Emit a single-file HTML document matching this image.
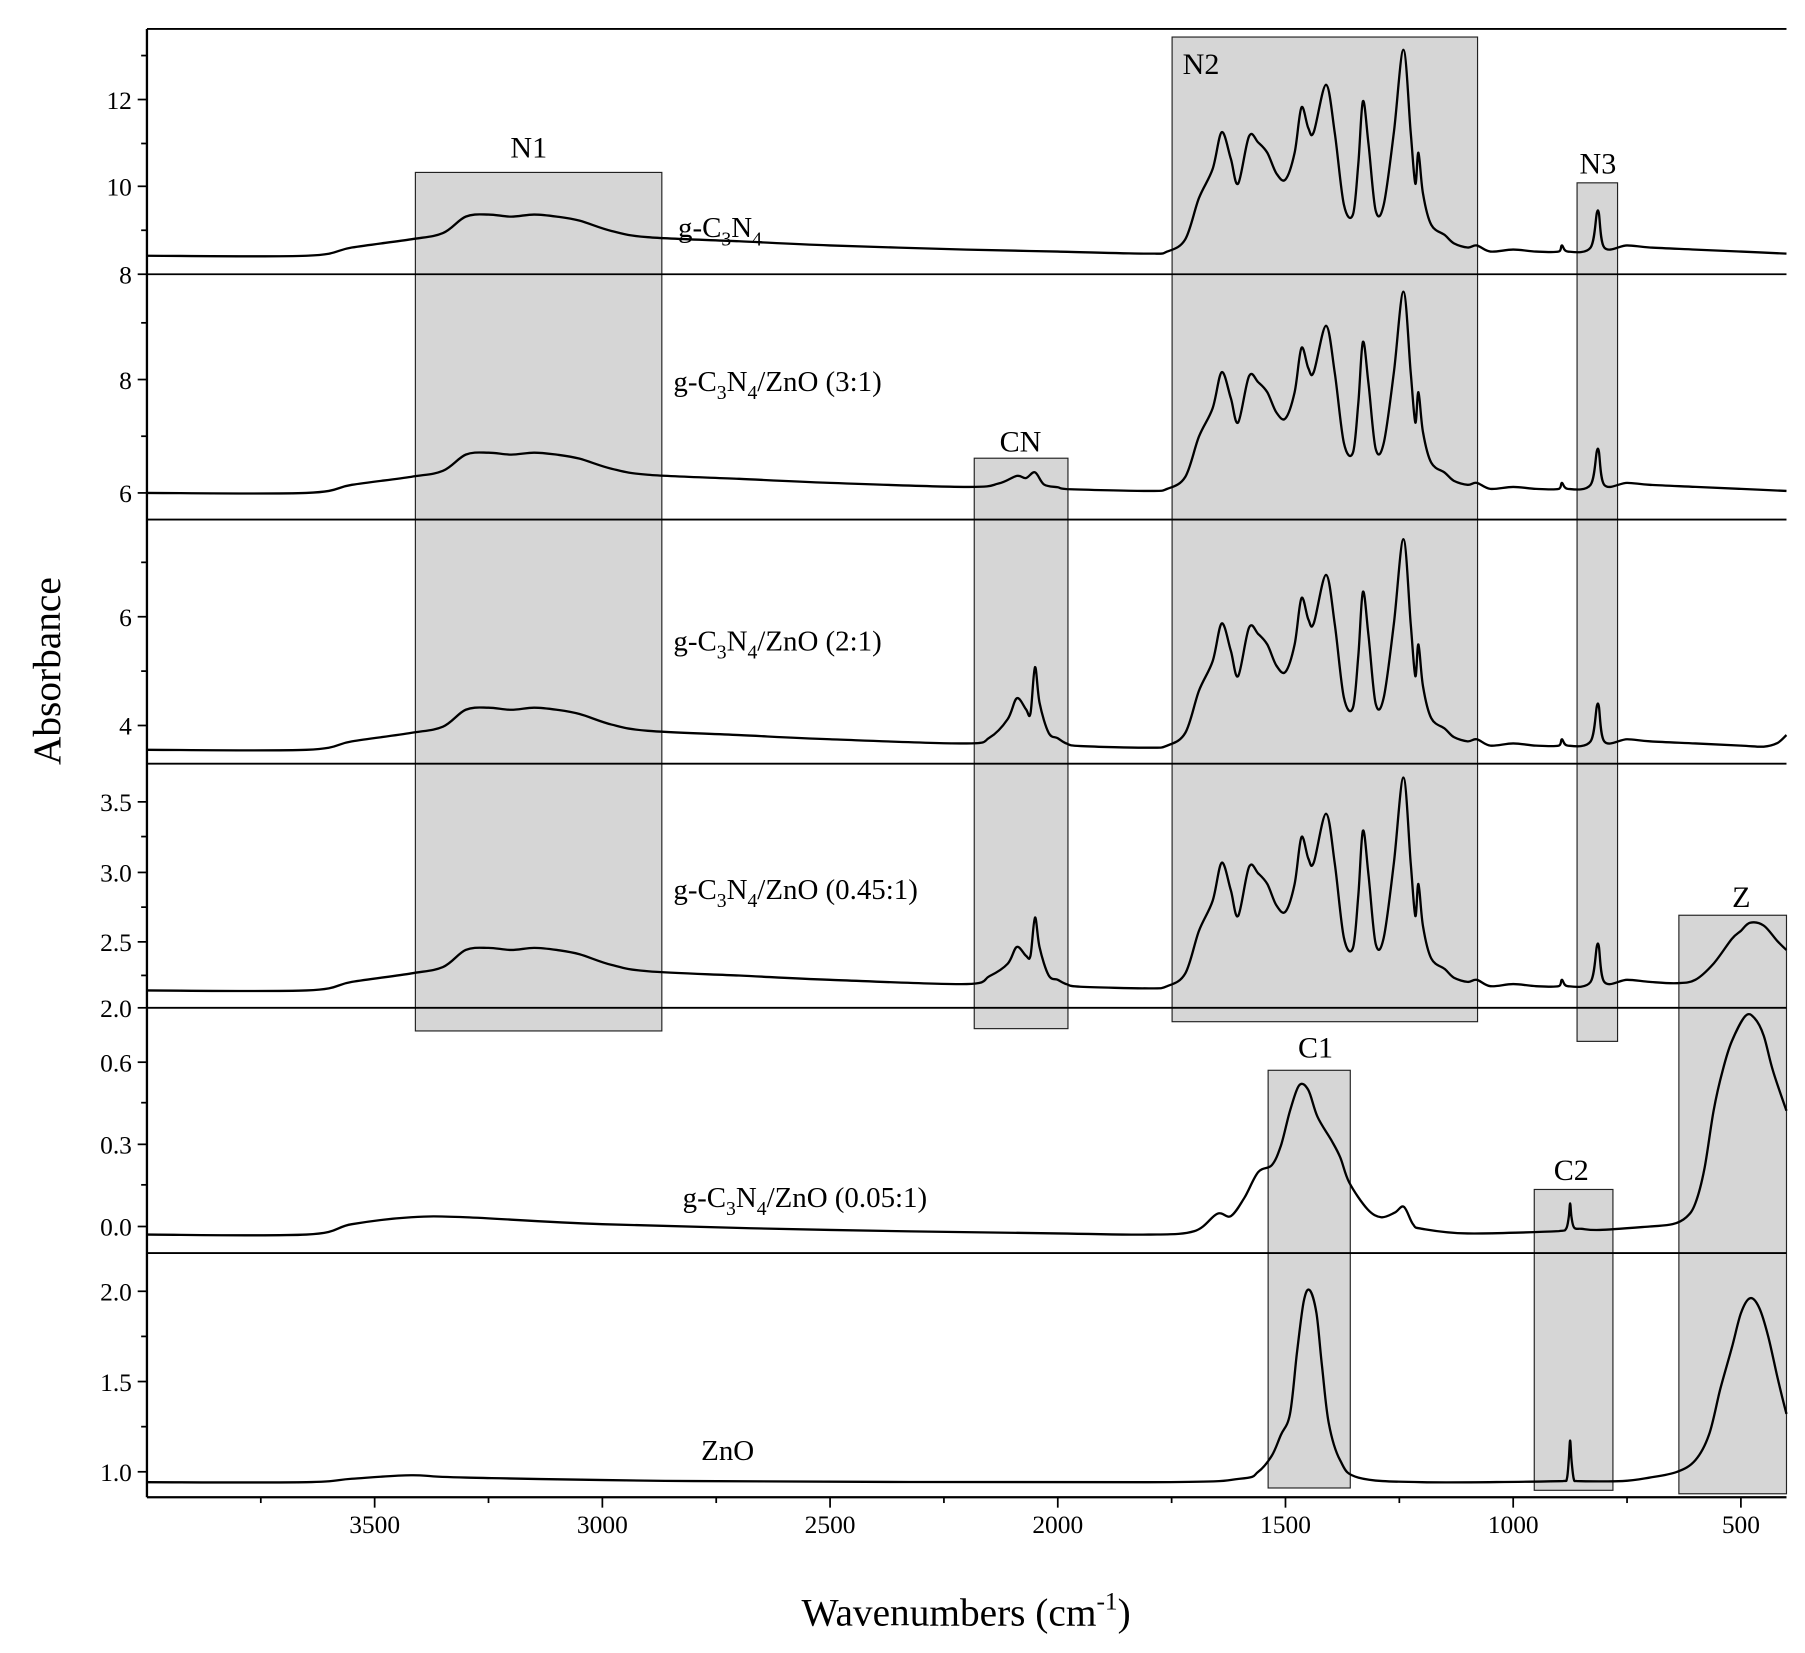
<!DOCTYPE html>
<html><head><meta charset="utf-8"><style>
html,body{margin:0;padding:0;background:#fff}
svg{display:block}
text{font-family:"Liberation Serif",serif;fill:#000}
</style></head><body>
<svg id="s" width="1805" height="1653" viewBox="0 0 1560 1428.6">
<g id="boxes" fill="#d6d6d6" stroke="#222" stroke-width="1">
<rect x="359" y="149" width="213" height="742"/>
<rect x="1013" y="32" width="264" height="851"/>
<rect x="1363" y="158" width="35" height="742"/>
<rect x="842" y="396" width="81" height="493"/>
<rect x="1451" y="791" width="93" height="500"/>
<rect x="1096" y="925" width="71" height="361"/>
<rect x="1326" y="1028" width="68" height="260"/>
</g>
<g font-size="26" text-anchor="middle">
<text x="457" y="136">N1</text><text x="1038" y="64">N2</text><text x="1381" y="150">N3</text>
<text x="882" y="390">CN</text><text x="1505" y="784">Z</text><text x="1137" y="914">C1</text><text x="1358" y="1020">C2</text>
</g>
<g font-size="25">
<text x="586" y="205">g-C<tspan font-size="17" dy="7">3</tspan><tspan dy="-7">N</tspan><tspan font-size="17" dy="7">4</tspan></text>
<text x="582" y="338">g-C<tspan font-size="17" dy="7">3</tspan><tspan dy="-7">N</tspan><tspan font-size="17" dy="7">4</tspan><tspan dy="-7">/ZnO (3:1)</tspan></text>
<text x="582" y="562">g-C<tspan font-size="17" dy="7">3</tspan><tspan dy="-7">N</tspan><tspan font-size="17" dy="7">4</tspan><tspan dy="-7">/ZnO (2:1)</tspan></text>
<text x="582" y="777">g-C<tspan font-size="17" dy="7">3</tspan><tspan dy="-7">N</tspan><tspan font-size="17" dy="7">4</tspan><tspan dy="-7">/ZnO (0.45:1)</tspan></text>
<text x="590" y="1043">g-C<tspan font-size="17" dy="7">3</tspan><tspan dy="-7">N</tspan><tspan font-size="17" dy="7">4</tspan><tspan dy="-7">/ZnO (0.05:1)</tspan></text>
<text x="606" y="1262">ZnO</text>
</g>
<g stroke="#000" stroke-width="1.6" fill="none">
<line x1="127" y1="25" x2="1544" y2="25"/>
<line x1="127" y1="237" x2="1544" y2="237"/>
<line x1="127" y1="449" x2="1544" y2="449"/>
<line x1="127" y1="660" x2="1544" y2="660"/>
<line x1="127" y1="871" x2="1544" y2="871"/>
<line x1="127" y1="1083" x2="1544" y2="1083"/>
<line x1="127" y1="1294" x2="1544" y2="1294" stroke-width="2"/>
<line x1="127" y1="25" x2="127" y2="1294" stroke-width="2"/>
</g>
<g id="ticks" stroke="#000" stroke-width="1.5"></g>
<g id="tl" font-size="22"></g>
<g id="curves" stroke="#000" stroke-width="2" fill="none"></g>
<text font-size="34" transform="translate(52,580) rotate(-90)" text-anchor="middle">Absorbance</text>
<text font-size="34" x="835" y="1405" text-anchor="middle">Wavenumbers (cm<tspan font-size="22" dy="-14">-1</tspan><tspan dy="14">)</tspan></text>
</svg>
<script>
var NS="http://www.w3.org/2000/svg";
function X(w){return 127+(4000-w)*0.3936;}
function el(p,t,a,txt){var e=document.createElementNS(NS,t);for(var k in a)e.setAttribute(k,a[k]);if(txt!=null)e.textContent=txt;document.getElementById(p).appendChild(e);return e;}
for(var w=3750;w>=500;w-=250){var x=X(w),maj=(w%500==0);el("ticks","line",{x1:x,y1:1294,x2:x,y2:1294+(maj?9:5)});if(maj)el("tl","text",{x:x,y:1325,"text-anchor":"middle"},w);}
var yt=[[[86,"12"],[161,"10"],[237,"8"]],[[328,"8"],[426,"6"]],[[533,"6"],[627,"4"]],[[693,"3.5"],[754,"3.0"],[814,"2.5"],[871,"2.0"]],[[918,"0.6"],[989,"0.3"],[1060,"0.0"]],[[1116,"2.0"],[1194,"1.5"],[1272,"1.0"]]];
var minors=[[48,124,199],[279,377],[486,580],[723,784,843],[953,1024],[1155,1233]];
yt.forEach(function(p){p.forEach(function(t){el("ticks","line",{x1:119,y1:t[0],x2:127,y2:t[0]});el("tl","text",{x:114,y:t[0]+8,"text-anchor":"end"},t[1]);});});
minors.forEach(function(p){p.forEach(function(y){el("ticks","line",{x1:122,y1:y,x2:127,y2:y});});});
function cl(v,a,b){return Math.max(Math.min(a,b),Math.min(Math.max(a,b),v));}
function path(pts){pts=pts.map(function(p){return [X(p[0]),p[1]];});var d="M"+pts[0][0].toFixed(1)+","+pts[0][1].toFixed(1);
for(var i=0;i<pts.length-1;i++){var p0=pts[Math.max(0,i-1)],p1=pts[i],p2=pts[i+1],p3=pts[Math.min(pts.length-1,i+2)];
var c1=[cl(p1[0]+(p2[0]-p0[0])/6,p1[0],p2[0]),p1[1]+(p2[1]-p0[1])/6],c2=[cl(p2[0]-(p3[0]-p1[0])/6,p1[0],p2[0]),p2[1]-(p3[1]-p1[1])/6];
d+="C"+c1[0].toFixed(1)+","+c1[1].toFixed(1)+" "+c2[0].toFixed(1)+","+c2[1].toFixed(1)+" "+p2[0].toFixed(1)+","+p2[1].toFixed(1);}
el("curves","path",{d:d});}
var S=[[4000,0],[3650,0],[3550,.04],[3420,.08],[3350,.11],[3300,.19],[3250,.2],[3200,.19],[3150,.2],[3100,.19],[3050,.17],[2980,.12],[2900,.09],[2700,.07],[2500,.05],[2200,.03],[2000,.02],[1800,.01],[1760,.02],[1720,.08],[1690,.28],[1660,.42],[1640,.6],[1620,.47],[1604,.35],[1580,.58],[1560,.55],[1540,.5],[1520,.4],[1500,.37],[1480,.5],[1465,.72],[1450,.62],[1438,.6],[1411,.83],[1392,.6],[1372,.25],[1352,.2],[1340,.45],[1330,.75],[1318,.55],[1302,.22],[1284,.25],[1262,.6],[1241,1.0],[1225,.6],[1215,.35],[1208,.5],[1198,.3],[1180,.15],[1150,.1],[1130,.06],[1100,.04],[1080,.05],[1050,.02],[1000,.03],[950,.02],[900,.02],[893,.05],[880,.02],[830,.04],[814,.22],[800,.04],[750,.05],[700,.04],[600,.03],[500,.02],[400,.01]];
function val(w,arr){for(var i=0;i<arr.length-1;i++){if(w<=arr[i][0]&&w>=arr[i+1][0]){var t=(arr[i][0]-w)/(arr[i][0]-arr[i+1][0]);return arr[i][1]+t*(arr[i+1][1]-arr[i][1]);}}return 0;}
function gpanel(base,amp,extra){var ws=S.map(function(p){return p[0];});extra.forEach(function(e){ws.push(e[0]);});ws=ws.filter(function(v,i,a){return a.indexOf(v)==i;}).sort(function(a,b){return b-a;});
var pts=ws.map(function(w){var v=val(w,S)+val(w,extra);return [w,base-amp*v];});path(pts);}
gpanel(221,178,[]);
gpanel(426,174,[[2200,0],[2130,.02],[2090,.06],[2070,.05],[2050,.08],[2030,.02],[1980,0]]);
gpanel(648,182,[[2200,0],[2150,.03],[2110,.12],[2090,.22],[2070,.17],[2060,.15],[2050,.37],[2040,.2],[2020,.06],[1980,.01],[1950,0],[450,0],[420,.02],[400,.06]]);
gpanel(856,184,[[2200,0],[2150,.04],[2110,.1],[2090,.18],[2070,.14],[2060,.14],[2050,.32],[2040,.18],[2020,.05],[1980,.01],[1950,0],[640,0],[600,.02],[560,.1],[520,.22],[480,.3],[450,.29],[420,.22],[400,.18]]);
path([[4000,1067],[3650,1067],[3550,1058],[3420,1052],[3300,1052],[3000,1058],[2500,1063],[2000,1066],[1800,1067],[1700,1064],[1650,1049],[1620,1051],[1590,1035],[1560,1013],[1530,1007],[1510,990],[1490,960],[1470,938],[1450,942],[1430,965],[1400,985],[1380,1000],[1360,1022],[1320,1045],[1290,1052],[1260,1048],[1240,1043],[1220,1058],[1200,1062],[1100,1066],[900,1064],[884,1062],[878,1052],[875,1040],[872,1052],[866,1061],[850,1062],[810,1063],[700,1060],[650,1058],[620,1052],[600,1040],[580,1010],[560,960],[540,925],[520,900],[490,878],[470,880],[450,895],[430,925],[400,960]]);
path([[4000,1281],[3650,1281],[3550,1278],[3420,1275],[3300,1277],[2800,1280],[1800,1281],[1600,1278],[1560,1272],[1530,1258],[1510,1240],[1490,1222],[1475,1170],[1460,1125],[1447,1115],[1432,1135],[1420,1180],[1405,1230],[1380,1262],[1340,1277],[1200,1281],[890,1280],[882,1278],[878,1262],[875,1245],[872,1262],[867,1278],[860,1280],[760,1280],[700,1277],[640,1272],[600,1262],[570,1240],[545,1200],[520,1165],[500,1135],[480,1122],[460,1130],[440,1155],[420,1190],[400,1222]]);
</script>
</body></html>
